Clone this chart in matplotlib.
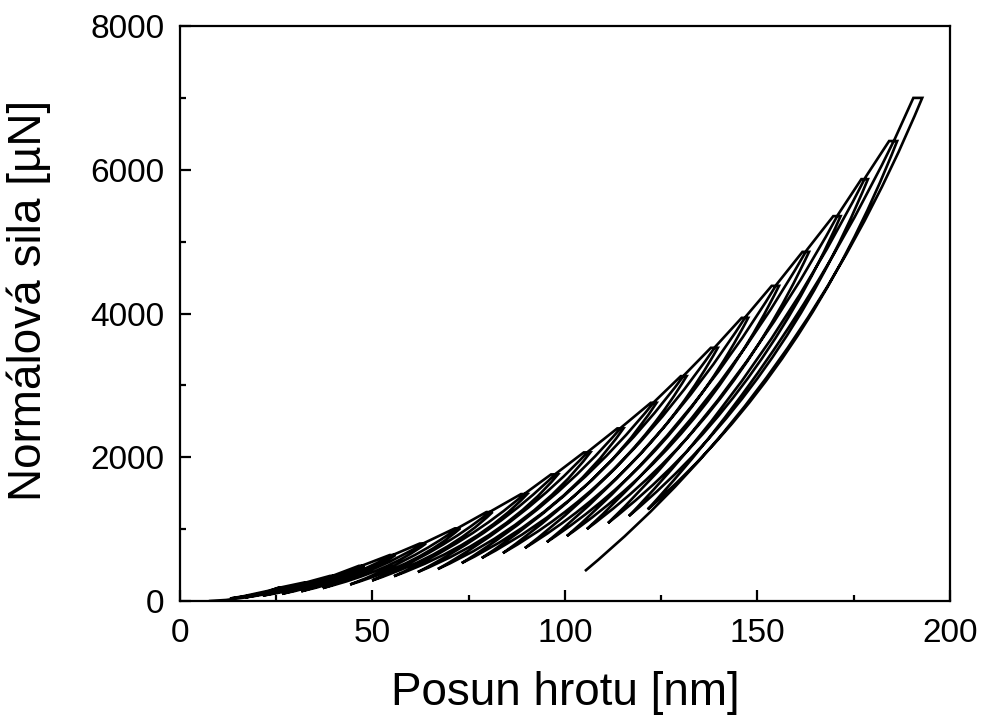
import matplotlib
matplotlib.use("Agg")
import matplotlib.pyplot as plt
from matplotlib.path import Path
from matplotlib.patches import PathPatch
from matplotlib.ticker import MultipleLocator

# multi-cycle indentation (chronological order)
# first loading branch up to the first peak
initial_depth = [7.5, 12.0, 17.0, 21.5, 25.5]
initial_load = [0, 15, 50, 105, 185]

# peaks: depth where the hold starts, depth where it ends, load [uN]
peak_depth = [25.5, 32.0, 39.0, 46.5, 54.5, 62.3, 71.4, 79.6, 88.6, 96.4, 104.9,
              113.6, 122.3, 130.1, 137.9, 145.9, 153.7, 161.7, 169.7, 177.0, 184.2, 190.5]
hold_end_depth = [26.5, 33.2, 40.3, 47.9, 56.0, 63.9, 72.8, 81.2, 90.2, 98.2, 106.6,
                  115.2, 123.8, 131.6, 139.7, 147.6, 155.6, 163.4, 171.6, 178.7, 186.3, 192.8]
peak_load = [185, 255, 350, 490, 640, 800, 1011, 1238, 1488, 1762, 2068,
             2402, 2758, 3129, 3523, 3940, 4385, 4858, 5355, 5870, 6400, 7000]

# where each unloading stops
unload_end_depth = [13.0, 17.0, 21.5, 26.5, 31.5, 37.1, 44.2, 49.9, 55.6, 61.8, 67.0,
                    73.2, 78.4, 83.9, 89.6, 95.3, 100.5, 105.7, 111.2, 116.6, 121.5, 105.2]
unload_end_load = [35, 50, 75, 100, 135, 180, 230, 285, 345, 403, 445,
                   528, 598, 667, 737, 820, 904, 1001, 1085, 1182, 1275, 417]

# curve bow of unloading / reloading branches (bezier control position)
UNL_H, UNL_P = 0.64, 0.38
REL_H, REL_P = 0.58, 0.42

fig = plt.figure(figsize=(9.85, 7.15), dpi=100)
ax = fig.add_axes([0.1827, 0.1594, 0.7817, 0.8042])

verts = [(initial_depth[0], initial_load[0])]
codes = [Path.MOVETO]
for h, p in zip(initial_depth[1:], initial_load[1:]):
    verts.append((h, p))
    codes.append(Path.LINETO)

n = len(peak_load)
for i in range(n):
    if i > 0:
        verts.append((peak_depth[i], peak_load[i]))
        codes.append(Path.LINETO)
    # hold
    ha, pa = hold_end_depth[i], peak_load[i]
    verts.append((ha, pa))
    codes.append(Path.LINETO)
    # unloading
    hb, pb = unload_end_depth[i], unload_end_load[i]
    ctrl = (hb + UNL_H * (ha - hb), pb + UNL_P * (pa - pb))
    verts += [ctrl, (hb, pb)]
    codes += [Path.CURVE3, Path.CURVE3]
    if i < n - 1:
        # reloading back to the previous maximum
        rj = (ha - 0.6, pa * 1.005)
        ctrl = (hb + REL_H * (rj[0] - hb), pb + REL_P * (rj[1] - pb))
        verts += [ctrl, rj]
        codes += [Path.CURVE3, Path.CURVE3]

patch = PathPatch(Path(verts, codes), fill=False, edgecolor="black", lw=1.9,
                  joinstyle="miter", capstyle="butt")
ax.add_patch(patch)

ax.set_xlim(0, 200)
ax.set_ylim(0, 8000)
ax.xaxis.set_major_locator(MultipleLocator(50))
ax.xaxis.set_minor_locator(MultipleLocator(25))
ax.yaxis.set_major_locator(MultipleLocator(2000))
ax.yaxis.set_minor_locator(MultipleLocator(1000))

font = "Liberation Sans"
ax.tick_params(which="both", direction="in", width=1.6)
ax.tick_params(which="major", length=8)
ax.tick_params(which="minor", length=4)
ax.tick_params(axis="y", pad=11)
ax.tick_params(axis="x", pad=12)
for lab in ax.get_xticklabels() + ax.get_yticklabels():
    lab.set_fontfamily(font)
    lab.set_fontsize(24)
for s in ax.spines.values():
    s.set_linewidth(1.6)

ax.set_xlabel("Posun hrotu [nm]", fontsize=33, family=font, labelpad=16)
ax.set_ylabel("Normálová sila [µN]", fontsize=33, family=font)
ax.yaxis.set_label_coords(-0.168, 0.523)

fig.savefig("out.png", dpi=100)
